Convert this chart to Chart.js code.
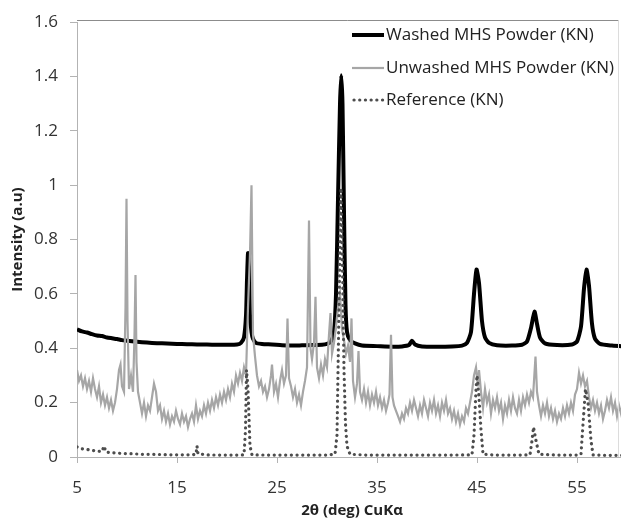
<!DOCTYPE html>
<html>
<head>
<meta charset="utf-8">
<script src="https://cdn.jsdelivr.net/npm/chart.js@4.4.1/dist/chart.umd.min.js"></script>
<style>
  html, body { margin: 0; padding: 0; background: #fff; overflow: hidden; }
  canvas { display: block; }
</style>
</head>
<body>
<canvas id="xrd" width="630" height="527"></canvas>
<script>
// series names as in the legend
var seriesNames = ['Washed MHS Powder (KN)', 'Unwashed MHS Powder (KN)', 'Reference (KN)'];

// axis ticks
var xTicks = [5, 15, 25, 35, 45, 55];
var yTicks = [0, 0.2, 0.4, 0.6, 0.8, 1, 1.2, 1.4, 1.6];

// [2theta, intensity]
var washed = [
  [5.0,0.470],[5.5,0.462],[6.0,0.458],[6.5,0.452],[7.0,0.447],[7.5,0.445],[8.0,0.440],[8.5,0.437],
  [9.0,0.434],[9.5,0.430],[10.0,0.428],[11.0,0.424],[12.0,0.421],[13.0,0.419],[14.0,0.418],[15.0,0.416],
  [16.0,0.415],[17.0,0.414],[18.0,0.414],[19.0,0.413],[20.0,0.413],[21.0,0.414],[21.4,0.420],[21.7,0.440],
  [21.9,0.520],[22.0,0.650],[22.1,0.750],[22.2,0.700],[22.3,0.520],[22.45,0.460],[22.6,0.435],[22.9,0.420],
  [23.5,0.416],[24.5,0.414],[25.5,0.411],[26.5,0.410],[27.5,0.411],[28.5,0.412],[29.5,0.413],[30.0,0.416],
  [30.4,0.425],[30.7,0.460],[30.9,0.600],[31.1,0.950],[31.3,1.300],[31.42,1.405],[31.55,1.300],[31.7,0.900],
  [31.85,0.560],[32.0,0.460],[32.3,0.430],[32.8,0.418],[33.5,0.410],[35.0,0.408],[36.5,0.406],[37.5,0.407],
  [38.2,0.412],[38.5,0.428],[38.8,0.414],[39.5,0.407],[41.0,0.406],[42.5,0.407],[43.5,0.410],[44.0,0.420],
  [44.4,0.460],[44.7,0.600],[44.95,0.690],[45.2,0.640],[45.5,0.500],[45.8,0.440],[46.2,0.420],[47.0,0.411],
  [48.5,0.410],[49.5,0.413],[50.0,0.425],[50.4,0.475],[50.75,0.535],[51.0,0.490],[51.3,0.440],[51.8,0.418],
  [53.0,0.412],[54.5,0.414],[55.0,0.425],[55.4,0.480],[55.7,0.620],[55.95,0.690],[56.2,0.630],[56.5,0.490],
  [56.8,0.435],[57.3,0.416],[58.5,0.410],[60.0,0.406]
];

var unwashed = [
  [5.0,0.32],[5.2,0.28],[5.4,0.30],[5.6,0.26],[5.8,0.29],[6.0,0.25],[6.2,0.28],[6.4,0.24],[6.6,0.29],[6.8,0.25],
  [7.0,0.22],[7.2,0.26],[7.4,0.20],[7.6,0.23],[7.8,0.19],[8.0,0.22],[8.2,0.18],[8.4,0.21],[8.6,0.17],[8.8,0.20],
  [9.0,0.25],[9.2,0.32],[9.35,0.34],[9.5,0.26],[9.7,0.24],[9.85,0.55],[9.95,0.95],[10.05,0.50],[10.2,0.25],[10.4,0.30],
  [10.6,0.24],[10.75,0.45],[10.85,0.67],[10.95,0.35],[11.1,0.24],[11.3,0.20],[11.5,0.16],[11.7,0.20],[11.9,0.15],[12.1,0.19],
  [12.3,0.17],[12.5,0.22],[12.7,0.27],[12.9,0.24],[13.1,0.17],[13.3,0.19],[13.5,0.14],[13.7,0.17],[13.9,0.13],[14.1,0.16],
  [14.3,0.12],[14.5,0.15],[14.7,0.13],[14.9,0.17],[15.1,0.14],[15.3,0.12],[15.5,0.16],[15.7,0.13],[15.9,0.15],[16.1,0.11],
  [16.3,0.14],[16.5,0.16],[16.7,0.13],[16.9,0.19],[17.1,0.14],[17.3,0.17],[17.5,0.15],[17.7,0.19],[17.9,0.16],[18.1,0.20],
  [18.3,0.17],[18.5,0.21],[18.7,0.18],[18.9,0.22],[19.1,0.19],[19.3,0.23],[19.5,0.20],[19.7,0.24],[19.9,0.21],[20.1,0.25],
  [20.3,0.22],[20.5,0.27],[20.7,0.24],[20.9,0.30],[21.1,0.27],[21.3,0.31],[21.5,0.28],[21.7,0.33],[21.9,0.30],[22.1,0.55],
  [22.3,0.75],[22.45,1.00],[22.6,0.45],[22.8,0.37],[23.0,0.30],[23.2,0.26],[23.4,0.28],[23.6,0.24],[23.8,0.26],[24.0,0.22],
  [24.2,0.25],[24.4,0.30],[24.5,0.34],[24.7,0.24],[24.9,0.27],[25.1,0.22],[25.3,0.28],[25.5,0.32],[25.7,0.27],[25.9,0.30],
  [26.05,0.51],[26.2,0.29],[26.4,0.26],[26.6,0.22],[26.8,0.25],[27.0,0.20],[27.2,0.23],[27.4,0.19],[27.6,0.24],[27.8,0.28],
  [28.0,0.33],[28.2,0.87],[28.35,0.40],[28.5,0.36],[28.7,0.42],[28.85,0.59],[29.0,0.33],[29.2,0.29],[29.4,0.34],[29.6,0.30],
  [29.8,0.36],[30.0,0.33],[30.2,0.45],[30.35,0.53],[30.5,0.38],[30.7,0.42],[30.9,0.48],[31.1,0.55],[31.3,0.60],[31.5,0.47],
  [31.7,0.43],[31.9,0.38],[32.1,0.41],[32.3,0.35],[32.45,0.51],[32.6,0.28],[32.8,0.22],[33.0,0.27],[33.15,0.39],[33.3,0.24],
  [33.5,0.21],[33.7,0.25],[33.9,0.20],[34.1,0.24],[34.3,0.19],[34.5,0.23],[34.7,0.20],[34.9,0.24],[35.1,0.19],[35.3,0.22],
  [35.5,0.18],[35.7,0.21],[35.9,0.17],[36.1,0.20],[36.25,0.23],[36.4,0.45],[36.55,0.22],[36.7,0.19],[36.9,0.17],[37.1,0.15],
  [37.3,0.13],[37.5,0.16],[37.7,0.14],[37.9,0.18],[38.1,0.16],[38.3,0.20],[38.5,0.17],[38.7,0.21],[38.9,0.18],[39.1,0.15],
  [39.3,0.19],[39.5,0.16],[39.7,0.21],[39.9,0.18],[40.1,0.15],[40.3,0.20],[40.5,0.17],[40.7,0.21],[40.9,0.16],[41.1,0.19],
  [41.3,0.15],[41.5,0.20],[41.7,0.17],[41.9,0.21],[42.1,0.16],[42.3,0.18],[42.5,0.14],[42.7,0.17],[42.9,0.13],[43.1,0.16],
  [43.3,0.12],[43.5,0.15],[43.7,0.13],[43.9,0.18],[44.1,0.16],[44.3,0.20],[44.5,0.24],[44.7,0.30],[44.9,0.33],[45.1,0.26],
  [45.2,0.32],[45.4,0.24],[45.6,0.18],[45.8,0.25],[46.0,0.20],[46.2,0.23],[46.4,0.16],[46.6,0.21],[46.8,0.18],[47.0,0.22],
  [47.2,0.17],[47.4,0.20],[47.6,0.14],[47.8,0.19],[48.0,0.16],[48.2,0.21],[48.4,0.17],[48.6,0.22],[48.8,0.18],[49.0,0.16],
  [49.2,0.21],[49.4,0.17],[49.6,0.22],[49.8,0.19],[50.0,0.23],[50.2,0.20],[50.4,0.24],[50.6,0.22],[50.85,0.37],[51.0,0.24],
  [51.2,0.19],[51.4,0.15],[51.6,0.19],[51.8,0.16],[52.0,0.20],[52.2,0.15],[52.4,0.18],[52.6,0.14],[52.8,0.17],[53.0,0.13],
  [53.2,0.16],[53.4,0.14],[53.6,0.18],[53.8,0.15],[54.0,0.19],[54.2,0.16],[54.4,0.20],[54.6,0.17],[54.8,0.23],[55.0,0.25],
  [55.2,0.31],[55.4,0.27],[55.6,0.30],[55.8,0.26],[56.0,0.28],[56.2,0.22],[56.4,0.18],[56.6,0.21],[56.8,0.17],[57.0,0.20],
  [57.2,0.16],[57.4,0.19],[57.6,0.14],[57.8,0.17],[58.0,0.21],[58.2,0.18],[58.4,0.22],[58.6,0.17],[58.8,0.20],[59.0,0.15],
  [59.2,0.19],[59.4,0.16],[59.6,0.20],[59.8,0.17],[60.0,0.19]
];

var reference = [
  [5.0,0.037],[5.5,0.030],[6.0,0.028],[6.5,0.024],[7.0,0.022],[7.5,0.020],[7.7,0.040],[7.9,0.018],[8.5,0.016],
  [9.5,0.013],[10.5,0.012],[11.5,0.010],[12.5,0.010],[13.5,0.009],[14.5,0.008],[15.5,0.008],[16.5,0.008],
  [16.9,0.010],[17.0,0.040],[17.1,0.012],[18.0,0.008],[19.0,0.007],[20.0,0.007],[21.0,0.007],[21.7,0.008],
  [21.85,0.100],[21.95,0.320],[22.1,0.250],[22.3,0.040],[22.5,0.008],[24.0,0.007],[26.0,0.007],[28.0,0.007],
  [30.0,0.007],[30.8,0.010],[31.0,0.080],[31.2,0.550],[31.4,0.990],[31.55,0.700],[31.7,0.320],[31.85,0.120],
  [32.0,0.040],[32.3,0.010],[34.0,0.007],[36.0,0.007],[38.0,0.007],[40.0,0.007],[42.0,0.007],[44.5,0.008],
  [44.7,0.080],[44.9,0.250],[45.0,0.300],[45.2,0.220],[45.4,0.100],[45.6,0.010],[47.0,0.007],[49.0,0.007],
  [50.3,0.008],[50.5,0.060],[50.65,0.110],[50.9,0.060],[51.2,0.010],[53.0,0.007],[55.0,0.007],[55.4,0.010],
  [55.6,0.120],[55.85,0.250],[56.1,0.200],[56.4,0.060],[56.6,0.008],[58.0,0.006],[60.0,0.006]
];

function toPoints(rows) {
  return rows.map(function (r) { return { x: r[0], y: r[1] }; });
}

Chart.defaults.font.family = '"Open Sans", sans-serif';
Chart.defaults.color = '#333';

var lineStyles = [
  { borderColor: '#000', borderWidth: 4, borderDash: [] },
  { borderColor: '#a6a6a6', borderWidth: 2.2, borderDash: [] },
  { borderColor: '#4d4d4d', borderWidth: 3.2, borderDash: [0.1, 5.6] }
];

// legend sits inside the plot, top right
var insideLegend = {
  id: 'insideLegend',
  afterDraw: function (chart) {
    var ctx = chart.ctx;
    var rowY = [35, 68, 100];
    ctx.save();
    // plot frame: top and right edge
    ctx.strokeStyle = '#8c8c8c';
    ctx.lineWidth = 1;
    ctx.beginPath();
    ctx.moveTo(chart.chartArea.left, 20.5);
    ctx.lineTo(618.5, 20.5);
    ctx.stroke();
    ctx.strokeStyle = '#dcdcdc';
    ctx.beginPath();
    ctx.moveTo(618.5, 20.5);
    ctx.lineTo(618.5, chart.chartArea.bottom);
    ctx.stroke();

    ctx.font = '17px "Open Sans", sans-serif';
    ctx.textBaseline = 'middle';
    ctx.fillStyle = '#222';
    seriesNames.forEach(function (name, i) {
      var s = lineStyles[i];
      ctx.strokeStyle = s.borderColor;
      ctx.lineWidth = s.borderWidth;
      ctx.lineCap = i === 2 ? 'round' : 'butt';
      ctx.setLineDash(s.borderDash);
      ctx.beginPath();
      ctx.moveTo(i === 2 ? 354 : 352, rowY[i]);
      ctx.lineTo(384, rowY[i]);
      ctx.stroke();
      ctx.setLineDash([]);
      ctx.fillText(name, 386, rowY[i]);
    });
    ctx.restore();
  }
};

var xrd = document.getElementById('xrd').getContext('2d');
var chart = new Chart(xrd, {
  type: 'line',
  data: {
    datasets: [
      {
        label: seriesNames[0],
        data: toPoints(washed),
        borderColor: lineStyles[0].borderColor,
        borderWidth: lineStyles[0].borderWidth,
        pointRadius: 0,
        tension: 0.2,
        order: 3
      },
      {
        label: seriesNames[1],
        data: toPoints(unwashed),
        borderColor: lineStyles[1].borderColor,
        borderWidth: lineStyles[1].borderWidth,
        pointRadius: 0,
        tension: 0,
        order: 2
      },
      {
        label: seriesNames[2],
        data: toPoints(reference),
        borderColor: lineStyles[2].borderColor,
        borderWidth: lineStyles[2].borderWidth,
        borderDash: lineStyles[2].borderDash,
        borderCapStyle: 'round',
        pointRadius: 0,
        tension: 0,
        order: 1
      }
    ]
  },
  options: {
    responsive: false,
    animation: false,
    layout: { padding: { left: 0, top: 20, right: 3, bottom: 0 } },
    plugins: {
      legend: { display: false },
      tooltip: { enabled: false }
    },
    scales: {
      x: {
        type: 'linear',
        min: 5,
        max: 60,
        afterBuildTicks: function (axis) {
          axis.ticks = xTicks.map(function (v) { return { value: v }; });
        },
        afterFit: function (axis) { axis.height = 70; },
        grid: { drawOnChartArea: false, drawTicks: true, tickLength: 6, tickColor: '#b3b3b3' },
        border: { display: true, color: '#b3b3b3', width: 1 },
        ticks: { padding: 15, maxRotation: 0, font: { size: 17 }, color: '#333' },
        title: {
          display: true,
          text: '2θ (deg) CuKα',
          font: { size: 15, weight: 'bold' },
          color: '#222',
          padding: { top: 0, bottom: 7 }
        }
      },
      y: {
        min: 0,
        max: 1.6,
        afterBuildTicks: function (axis) {
          axis.ticks = yTicks.map(function (v) { return { value: v }; });
        },
        afterFit: function (axis) { axis.width = 77; },
        grid: { drawOnChartArea: false, drawTicks: true, tickLength: 7, tickColor: '#b3b3b3' },
        border: { display: true, color: '#b3b3b3', width: 1 },
        ticks: {
          padding: 12,
          font: { size: 17 },
          color: '#333',
          callback: function (v) { return String(Math.round(v * 10) / 10); }
        },
        title: {
          display: true,
          text: 'Intensity (a.u)',
          font: { size: 15, weight: 'bold' },
          color: '#222',
          padding: { top: 9, bottom: 0 }
        }
      }
    }
  },
  plugins: [insideLegend]
});
</script>
</body>
</html>
